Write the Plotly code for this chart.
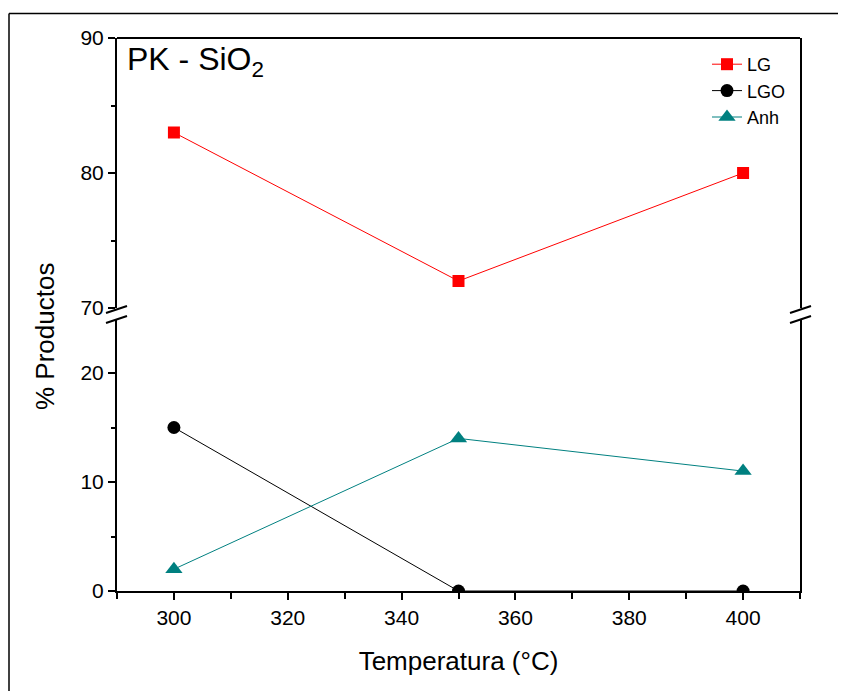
import plotly.graph_objects as go

temps = [300, 350, 400]
lg = [83, 72, 80]
lgo = [15, 0, 0]
anh = [2, 14, 11]

OFF = 8  # body margin of the html page
W, H = 846, 691
L, R, T, B = 117 - OFF, 800 - OFF, 38 - OFF, 591 - OFF
pw, ph = R - L, B - T

def px2x(p):
    return (p - OFF - L) / pw

def px2y(p):
    return (B - (p - OFF)) / ph

FONT = "Arial, Liberation Sans, sans-serif"

fig = go.Figure()
fig.add_trace(go.Scatter(x=temps, y=lg, name="LG", mode="lines+markers", yaxis="y2",
                         line=dict(color="#FF0000", width=1),
                         marker=dict(symbol="square", size=12, color="#FF0000"),
                         legendgroup="a"))
fig.add_trace(go.Scatter(x=temps, y=lgo, name="LGO", mode="lines+markers", yaxis="y",
                         line=dict(color="#000000", width=1),
                         marker=dict(symbol="circle", size=13, color="#000000"),
                         legendgroup="b"))
fig.add_trace(go.Scatter(x=temps, y=anh, name="Anh", mode="lines+markers", yaxis="y",
                         line=dict(color="#008080", width=1),
                         marker=dict(symbol="triangle-up", size=15, color="#008080"),
                         legendgroup="c"))

lower_top = px2y(318.5)
upper_bot = px2y(308)

axis_common = dict(showgrid=False, zeroline=False, showline=True, linecolor="black", linewidth=2,
                   ticks="outside", tickwidth=2, tickcolor="black",
                   tickfont=dict(family=FONT, size=21, color="black"))

fig.update_layout(
    width=W, height=H,
    margin=dict(l=L, r=W - R, t=T, b=H - B, pad=0),
    plot_bgcolor="white", paper_bgcolor="white",
    showlegend=True,
    xaxis=dict(range=[290, 410], tickvals=[300, 320, 340, 360, 380, 400], ticklen=7,
               minor=dict(tickvals=[290, 310, 330, 350, 370, 390, 410], ticks="outside", ticklen=6, tickwidth=2, tickcolor="black"),
               anchor="y", mirror=False,
               title=dict(text="Temperatura (°C)", font=dict(family=FONT, size=26, color="black"), standoff=24),
               **axis_common),
    yaxis=dict(range=[0, 25], domain=[0, lower_top], tickvals=[0, 10, 20], ticklen=7,
               minor=dict(tickvals=[5, 15], ticks="outside", ticklen=4, tickwidth=2, tickcolor="black"),
               anchor="x", mirror=True,
               **axis_common),
    yaxis2=dict(range=[70, 90], domain=[upper_bot, 1], tickvals=[70, 80, 90], ticklen=7,
                minor=dict(tickvals=[75, 85], ticks="outside", ticklen=4, tickwidth=2, tickcolor="black"),
                anchor="x", mirror=True,
                **axis_common),
    legend=dict(x=px2x(707), y=px2y(46), xanchor="left", yanchor="top",
                bgcolor="rgba(0,0,0,0)", font=dict(family=FONT, size=18, color="black"),
                tracegroupgap=0, itemwidth=30),
)

# y axis title
fig.add_annotation(text="% Productos", xref="paper", yref="paper", x=px2x(45), y=px2y(337),
                   xanchor="center", yanchor="middle",
                   textangle=-90, showarrow=False, font=dict(family=FONT, size=26, color="black"))
# label
fig.add_annotation(text="PK - SiO<sub>2</sub>", xref="paper", yref="paper", x=px2x(125), y=px2y(39),
                   xanchor="left", yanchor="top", showarrow=False, align="left",
                   font=dict(family=FONT, size=32, color="black"))

shapes = []
# top frame line
shapes.append(dict(type="line", xref="paper", yref="paper", x0=0, x1=1, y0=1, y1=1,
                   line=dict(color="black", width=2)))
# break marks
for (xa, xb) in [(106, 127), (790, 811)]:
    for (ya, yb) in [(313, 306), (323, 316)]:
        shapes.append(dict(type="line", xref="paper", yref="paper",
                           x0=px2x(xa), y0=px2y(ya), x1=px2x(xb), y1=px2y(yb),
                           line=dict(color="black", width=2)))
# outer border: only top and left edges are visible in the reference
shapes.append(dict(type="line", xref="paper", yref="paper",
                   x0=px2x(9), y0=px2y(13.5), x1=px2x(900), y1=px2y(13.5),
                   line=dict(color="black", width=1.5), layer="below"))
shapes.append(dict(type="line", xref="paper", yref="paper",
                   x0=px2x(9), y0=px2y(13.5), x1=px2x(9), y1=px2y(760),
                   line=dict(color="black", width=1.5), layer="below"))
fig.update_layout(shapes=shapes)

fig.write_html("out.html",
               post_script="document.documentElement.style.overflow='hidden';document.body.style.overflow='hidden';")
